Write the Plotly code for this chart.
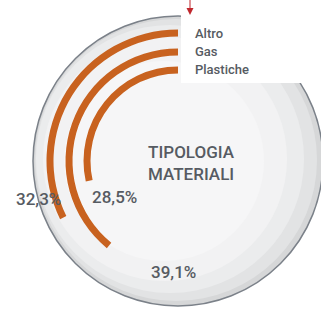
import plotly.graph_objects as go

# ---- data ----
categories = ["Altro", "Gas", "Plastiche"]
values = [32.3, 39.1, 28.5]           # percent
value_labels = ["32,3%", "39,1%", "28,5%"]
title_lines = ["TIPOLOGIA", "MATERIALI"]

# ---- style / layout constants ----
W, H = 321, 311
CX, CY = 178, 161          # centre of chart in px (from top-left)
PR = 143                   # polar radius in px
DEG_PER_PCT = 3.6
ring_base = [124.5, 105.5, 87.5]
ring_thick = 7
ORANGE = "#c8621f"
TXT = "#565b62"

def px(x):
    return x / W

def py(y):
    return 1 - y / H

fig = go.Figure()
for i, (cat, v) in enumerate(zip(categories, values)):
    fig.add_trace(go.Barpolar(
        r=[ring_thick], base=[ring_base[i]],
        theta=[v * DEG_PER_PCT / 2], width=[v * DEG_PER_PCT],
        marker=dict(color=ORANGE, line=dict(width=0)),
        name=cat, showlegend=False, hoverinfo="skip"))

shapes = []
def circ(cx, cy, r, fill, line=None, lw=0):
    shapes.append(dict(type="circle", xref="paper", yref="paper", layer="below",
                       x0=px(cx - r), x1=px(cx + r), y0=py(cy + r), y1=py(cy - r),
                       fillcolor=fill, line=dict(color=line or fill, width=lw)))

# plate
circ(CX, CY, 145, "#d6d7d8", "#7b8189", 1.5)
circ(CX - 2, CY - 1, 141, "#e2e3e4")
circ(CX - 8, CY - 2, 134, "#ebeced")
circ(CX - 13, CY - 2, 122, "#f2f2f3")
circ(CX - 14, CY, 100, "#f6f6f7")
# white legend box cutting the plate
shapes.append(dict(type="rect", xref="paper", yref="paper", layer="below",
                   x0=px(181), x1=px(W + 2), y0=py(83), y1=py(-2),
                   fillcolor="white", line=dict(width=0)))
# red marker
shapes.append(dict(type="line", xref="paper", yref="paper",
                   x0=px(190), x1=px(190), y0=py(0), y1=py(8),
                   line=dict(color="#c0272d", width=1)))
shapes.append(dict(type="path", xref="paper", yref="paper",
                   path=f"M {px(186.5)},{py(8)} L {px(193.5)},{py(8)} L {px(190)},{py(15)} Z",
                   fillcolor="#c0272d", line=dict(width=0)))

annotations = []
# legend texts
for cat, y in zip(categories, [33, 51, 69]):
    annotations.append(dict(text=cat, x=px(193), y=py(y), xref="paper", yref="paper",
                            xanchor="left", yanchor="middle", showarrow=False,
                            font=dict(family="Roboto", size=13, color=TXT, weight=500)))
# centre title
annotations.append(dict(text="<br>".join(title_lines), x=px(192), y=py(163),
                        xref="paper", yref="paper", xanchor="center", yanchor="middle",
                        showarrow=False, align="center",
                        font=dict(family="Roboto", size=17, color=TXT, weight=500)))
# value labels
for lab, (x, y) in zip(value_labels, [(38, 199), (174, 272), (114, 197)]):
    annotations.append(dict(text=lab, x=px(x), y=py(y), xref="paper", yref="paper",
                            xanchor="center", yanchor="middle", showarrow=False,
                            font=dict(family="Roboto", size=17, color=TXT, weight=500)))

fig.update_layout(
    width=W, height=H, margin=dict(l=0, r=0, t=0, b=0),
    paper_bgcolor="white", plot_bgcolor="white",
    polar=dict(
        domain=dict(x=[px(CX - PR), min(1, px(CX + PR))], y=[py(CY + PR), py(CY - PR)]),
        bgcolor="rgba(0,0,0,0)",
        radialaxis=dict(range=[0, PR], visible=False),
        angularaxis=dict(rotation=90, direction="counterclockwise", visible=False),
        barmode="overlay",
    ),
    shapes=shapes, annotations=annotations,
)
fig.write_html("out.html", config={"displayModeBar": False},
               post_script="document.body.style.margin='0';document.body.style.overflow='hidden';")
